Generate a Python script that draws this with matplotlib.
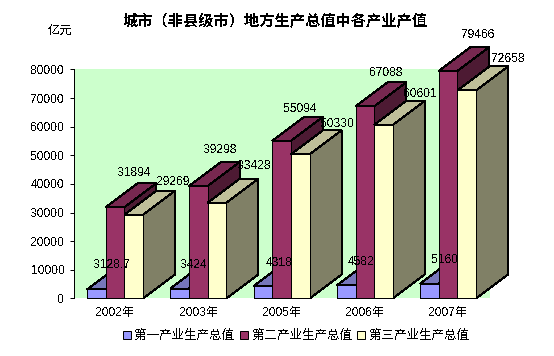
import matplotlib
matplotlib.use("Agg")
import matplotlib.pyplot as plt
from matplotlib.patches import Polygon, Patch

plt.rcParams['font.family'] = ['Liberation Sans', 'Noto Sans CJK SC', 'DejaVu Sans']
plt.rcParams['text.antialiased'] = False

years = ['2002年', '2003年', '2005年', '2006年', '2007年']
series_names = ['第一产业生产总值', '第二产业生产总值', '第三产业生产总值']
primary = [3128.7, 3424, 4318, 4582, 5160]
secondary = [31894, 39298, 55094, 67088, 79466]
tertiary = [29269, 33428, 50330, 60601, 72658]
primary_text = ['3128.7', '3424', '4318', '4582', '5160']
y_ticks = [0, 10000, 20000, 30000, 40000, 50000, 60000, 70000, 80000]
title = '城市（非县级市）地方生产总值中各产业产值'
unit = '亿元'

W, H = 554, 356
AX_L, AX_B, AX_W, AX_H = 73.5, 298.4, 416.25, 229.0   # pixels
PT = 72 / 100
DEPTH_X, DEPTH_Y = 32, 24   # pixels
BAR_W = 0.2245
FS = 12 * PT

fig = plt.figure(figsize=(W / 100, H / 100), dpi=100, facecolor='white')
ax = fig.add_axes([AX_L / W, (H - AX_B) / H, AX_W / W, AX_H / H], facecolor='#CCFFCC')
ax.set_xlim(0, len(years))
ax.set_ylim(0, 80000)

dx = DEPTH_X / AX_W * len(years)
dy = DEPTH_Y / AX_H * 80000

styles = [
    ('#9999FF', '#7777BB', '#5C5C99'),
    ('#993366', '#772850', '#4D1A33'),
    ('#FFFFCC', '#BFBF99', '#808066'),
]
series = [primary, secondary, tertiary]

# label offsets (pixels) from each bar's centre / top
label_dx = [[15.3, 14.5, 15.7, 15.2, 15.2],
            [19.5, 21.5, 19.0, 21.5, 30.0],
            [39.5, 37.3, 37.0, 36.2, 41.7]]
label_dy = [[24.0, 23.6, 23.3, 23.0, 23.6],
            [34.0, 35.6, 31.3, 33.0, 36.0],
            [32.5, 36.6, 30.6, 30.6, 31.3]]

for s, (vals, (front, top, side)) in enumerate(zip(series, styles)):
    z = 3 + s
    for g, v in enumerate(vals):
        x0 = g + 0.5 + (s - 1.5) * BAR_W
        x1 = x0 + BAR_W
        ax.add_patch(Polygon([(x0, v), (x1, v), (x1 + dx, v + dy), (x0 + dx, v + dy)],
                             closed=True, fc=top, ec='black', lw=1 * PT,
                             clip_on=False, zorder=z, antialiased=False))
        ax.add_patch(Polygon([(x1, 0), (x1 + dx, dy), (x1 + dx, v + dy), (x1, v)],
                             closed=True, fc=side, ec='black', lw=1 * PT,
                             clip_on=False, zorder=z, antialiased=False))
    xs = [g + 0.5 + (s - 1) * BAR_W for g in range(len(years))]
    ax.bar(xs, vals, width=BAR_W, color=front, edgecolor='black', linewidth=1 * PT,
           zorder=z + 0.1, clip_on=False, antialiased=False)
    for g, v in enumerate(vals):
        txt = primary_text[g] if s == 0 else str(v)
        ax.annotate(txt, (xs[g], v),
                    xytext=(label_dx[s][g] * PT, label_dy[s][g] * PT),
                    textcoords='offset points', ha='center', va='center',
                    fontsize=FS, color='black', zorder=10, annotation_clip=False)

ax.set_xticks([g + 0.5 for g in range(len(years))])
ax.set_xticklabels(years, fontsize=FS)
ax.set_yticks(y_ticks)
ax.set_yticklabels([str(t) for t in y_ticks], fontsize=FS)
ax.tick_params(axis='x', length=0, pad=6.5)
ax.tick_params(axis='y', length=4.5 * PT, width=1 * PT, pad=4.5 * PT)
for sp in ['top', 'right', 'bottom']:
    ax.spines[sp].set_visible(False)
ax.spines['left'].set_linewidth(1 * PT)
ax.spines['left'].set_zorder(9)

fig.text(275.5 / W, 1 - 21 / H, title, ha='center', va='center',
         fontsize=15.2 * PT, fontweight='bold', family=['Noto Sans CJK SC', 'DejaVu Sans'])
fig.text(60 / W, 1 - 30.5 / H, unit, ha='center', va='center', fontsize=12.2 * PT,
         family=['Noto Sans CJK SC', 'DejaVu Sans'])

handles = [Patch(fc=st[0], ec='black', lw=1 * PT, label=n) for st, n in zip(styles, series_names)]
fig.legend(handles=handles, loc='center', bbox_to_anchor=(296 / W, 1 - 335.5 / H),
           ncol=3, frameon=False, borderpad=0, borderaxespad=0,
           handlelength=0.64, handleheight=0.62,
           handletextpad=0.32, columnspacing=0.424,
           prop={'family': ['Noto Sans CJK SC', 'DejaVu Sans'], 'size': 12.5 * PT})

fig.savefig('out.png', dpi=100, facecolor='white')
